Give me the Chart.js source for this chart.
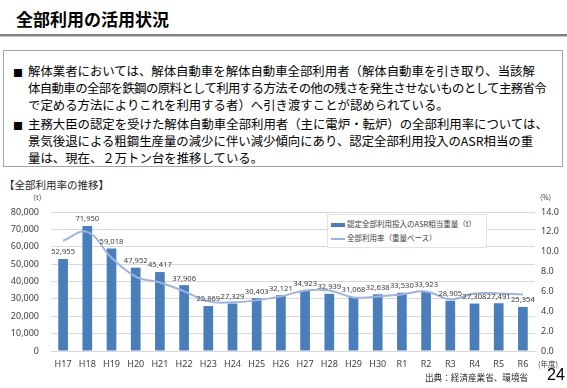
<!DOCTYPE html>
<html>
<head>
<meta charset="utf-8">
<script src="https://cdn.jsdelivr.net/npm/chart.js@4"></script>
<style>
  body { margin: 0; width: 567px; height: 388px; background: #fff; overflow: hidden;
         font-family: "Noto Sans CJK JP", "Noto Sans", sans-serif; color: #000; }
  .abs { position: absolute; white-space: nowrap; }
  #title { left: 16px; top: 6px; font-size: 17px; font-weight: bold; }
  #rule { left: 0; top: 34px; width: 567px; height: 2px; background: #7f7f7f; border-bottom: 1px solid #c8c8c8; }
  #box { left: 3px; top: 50px; width: 558px; height: 115px; border: 1px solid #a6a6a6; }
  .ln { position: absolute; left: 24px; font-size: 12.4px; line-height: 16px; }
  .bl { position: absolute; left: 9px; font-size: 10px; }
  #sub { left: 4px; top: 177px; font-size: 10.5px; color: #262626; }
  #chartWrap { position: absolute; left: 0; top: 190px; width: 567px; height: 185px; }
  #legend { left: 327px; top: 214px; width: 158px; height: 32px; background: #fff; border: 1px solid #e3e3e3;
            font-size: 7.5px; color: #404040; }
  .li { position: absolute; left: 3px; height: 12px; line-height: 12px; }
  .sw { display: inline-block; width: 14px; vertical-align: middle; margin-right: 2px; }
</style>
</head>
<body>
<div class="abs" id="title">全部利用の活用状況</div>
<div class="abs" id="rule"></div>
<div class="abs" id="box">
  <div class="bl" style="top:14px">■</div>
  <div class="ln" style="top:12px">解体業者においては、解体自動車を解体自動車全部利用者（解体自動車を引き取り、当該解</div>
  <div class="ln" style="top:29px;letter-spacing:-0.6px">体自動車の全部を鉄鋼の原料として利用する方法その他の残さを発生させないものとして主務省令</div>
  <div class="ln" style="top:46px">で定める方法によりこれを利用する者）へ引き渡すことが認められている。</div>
  <div class="bl" style="top:67px">■</div>
  <div class="ln" style="top:65px">主務大臣の認定を受けた解体自動車全部利用者（主に電炉・転炉）の全部利用率については、</div>
  <div class="ln" style="top:82px">景気後退による粗鋼生産量の減少に伴い減少傾向にあり、認定全部利用投入のASR相当の重</div>
  <div class="ln" style="top:99px">量は、現在、２万トン台を推移している。</div>
</div>
<div class="abs" id="sub">【全部利用率の推移】</div>
<div id="chartWrap"><canvas id="c"></canvas></div>
<div class="abs" id="legend">
  <div class="li" style="top:3px"><span class="sw" style="height:4px;background:#4a7ebb"></span>認定全部利用投入のASR相当重量（t）</div>
  <div class="li" style="top:17px"><span class="sw" style="height:1.5px;background:#9db5df"></span>全部利用率（重量ベース）</div>
</div>
<div class="abs" style="left:29px;top:192px;font-size:7px;color:#404040">（t）</div>
<div class="abs" style="left:540px;top:192px;font-size:7px;color:#404040">(%)</div>
<div class="abs" style="left:538px;top:358px;font-size:7.5px;color:#404040">(年度)</div>
<div class="abs" style="left:425px;top:371px;font-size:8.6px;color:#262626">出典：経済産業省、環境省</div>
<div class="abs" style="left:547px;top:366px;font-size:16px;font-family:'Liberation Sans',sans-serif">24</div>
<script>
const years = ['H17', 'H18', 'H19', 'H20', 'H21', 'H22', 'H23', 'H24', 'H25', 'H26',
               'H27', 'H28', 'H29', 'H30', 'R1', 'R2', 'R3', 'R4', 'R5', 'R6'];
const asrWeight = [52955, 71950, 59018, 47952, 45417, 37906, 25869, 27329, 30403, 32121,
                   34923, 32939, 31068, 32638, 33530, 33923, 28905, 27308, 27491, 25354];
const useRate = [11.1, 12.0, 9.4, 7.5, 6.9, 6.0, 5.0, 4.9, 5.1, 5.5,
                 6.1, 6.1, 5.4, 5.5, 5.7, 6.0, 5.2, 5.8, 5.8, 5.7];
const leftTicks = [0, 10000, 20000, 30000, 40000, 50000, 60000, 70000, 80000];
const rightTicks = [0, 2, 4, 6, 8, 10, 12, 14];

const tickFont = { family: 'Noto Sans', size: 9 };

// values above the bars
const barLabels = {
    id: 'barLabels',
    afterDatasetsDraw(chart) {
        const ctx = chart.ctx;
        const meta = chart.getDatasetMeta(1);
        ctx.save();
        ctx.font = '7.6px "Noto Sans"';
        ctx.fillStyle = '#404040';
        ctx.textAlign = 'center';
        ctx.textBaseline = 'bottom';
        meta.data.forEach((bar, i) => {
            ctx.fillText(asrWeight[i].toLocaleString('en-US'), bar.x, bar.y - 3);
        });
        ctx.restore();
    }
};

new Chart(document.getElementById('c'), {
    data: {
        labels: years,
        datasets: [{
            type: 'line',
            label: '全部利用率（重量ベース）',
            data: useRate,
            yAxisID: 'y1',
            borderColor: '#9db5df',
            borderWidth: 2,
            pointRadius: 0,
            tension: 0.4,
            order: 0
        }, {
            type: 'bar',
            label: '認定全部利用投入のASR相当重量（t）',
            data: asrWeight,
            yAxisID: 'y',
            backgroundColor: '#4a7ebb',
            barPercentage: 0.4,
            categoryPercentage: 1.0,
            order: 1
        }]
    },
    options: {
        responsive: true,
        maintainAspectRatio: false,
        animation: false,
        layout: { padding: { top: 22, left: 0, right: 0, bottom: 0 } },
        plugins: { legend: { display: false }, tooltip: { enabled: false } },
        scales: {
            x: {
                grid: { display: false, drawTicks: false },
                border: { color: '#d9d9d9' },
                ticks: { font: tickFont, color: '#404040', padding: 8, maxRotation: 0, autoSkip: false },
                afterFit: s => { s.height = 24; }
            },
            y: {
                position: 'left',
                min: 0, max: 80000,
                afterBuildTicks: s => { s.ticks = leftTicks.map(v => ({ value: v })); },
                grid: { color: '#d9d9d9', drawTicks: false },
                border: { display: false },
                ticks: { font: tickFont, color: '#404040', padding: 12,
                         callback: v => v.toLocaleString('en-US') },
                afterFit: s => { s.width = 51; }
            },
            y1: {
                position: 'right',
                min: 0, max: 14,
                afterBuildTicks: s => { s.ticks = rightTicks.map(v => ({ value: v })); },
                grid: { display: false, drawTicks: false },
                border: { display: false },
                ticks: { font: tickFont, color: '#404040', padding: 6,
                         callback: v => v.toFixed(1) },
                afterFit: s => { s.width = 32; }
            }
        }
    },
    plugins: [barLabels]
});
</script>
</body>
</html>
